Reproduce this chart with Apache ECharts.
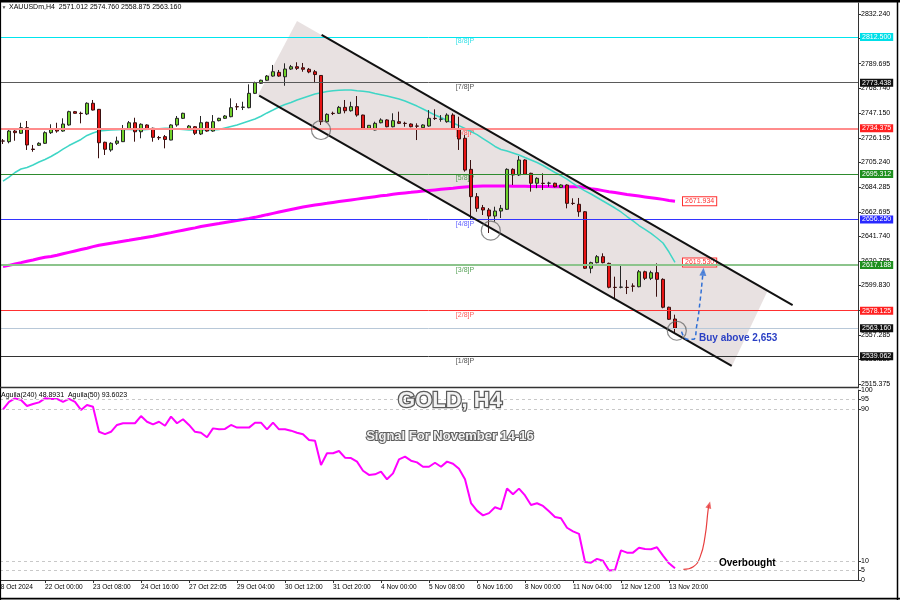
<!DOCTYPE html>
<html><head><meta charset="utf-8">
<script src="https://cdn.jsdelivr.net/npm/echarts@6/dist/echarts.min.js"></script>
<style>html,body{margin:0;padding:0;background:#fff}#c{width:900px;height:600px}</style>
</head><body><div id="c"></div>
<script>
// ---------- DATA ----------
const tickLabels = ['18 Oct 2024','22 Oct 00:00','23 Oct 08:00','24 Oct 16:00','27 Oct 22:05','29 Oct 04:00','30 Oct 12:00','31 Oct 20:00','4 Nov 00:00','5 Nov 08:00','6 Nov 16:00','8 Nov 00:00','11 Nov 04:00','12 Nov 12:00','13 Nov 20:00'];
const priceTicks = [2832.240,2811.285,2789.695,2768.740,2747.150,2726.195,2705.240,2684.285,2662.695,2641.740,2620.785,2599.830,2578.875,2557.285,2536.330,2515.375];
const aguilaTicks = [0,5,10,90,95,100];
const aguilaLevels = [95,90,10,5];
// candles [open, close, low, high], bars 1..113
const candles = [
[2723.5,2723.4,2720.9,2725.2],[2722.9,2732.0,2721.5,2732.9],[2732.0,2730.6,2723.7,2732.9],[2730.1,2734.9,2729.5,2739.1],[2734.9,2720.1,2715.8,2740.6],
[2716.6,2716.2,2714.3,2720.1],[2719.8,2721.5,2719.2,2722.4],[2721.5,2730.6,2720.9,2731.8],[2730.6,2733.8,2729.5,2737.8],[2733.8,2732.0,2730.6,2739.1],
[2732.0,2738.0,2731.4,2742.9],[2737.2,2748.6,2736.6,2749.4],[2748.6,2747.2,2747.0,2749.2],[2747.2,2747.0,2738.6,2748.6],[2746.6,2755.8,2745.7,2756.6],
[2755.8,2750.0,2749.6,2758.6],[2750.6,2722.0,2708.7,2750.9],[2722.4,2716.4,2711.5,2722.9],[2715.8,2721.5,2714.3,2722.4],[2721.5,2723.5,2720.1,2727.2],
[2722.9,2733.5,2722.6,2737.2],[2733.5,2739.1,2732.9,2740.6],[2739.1,2731.4,2722.9,2743.4],[2731.4,2737.8,2725.8,2738.6],[2737.2,2733.8,2733.3,2737.8],
[2734.4,2726.6,2722.9,2734.9],[2726.5,2726.2,2724.3,2727.8],[2727.2,2724.8,2717.2,2728.6],[2724.3,2737.2,2724.1,2737.8],[2737.2,2742.9,2735.7,2744.9],
[2742.9,2747.2,2742.3,2747.7],[2733.8,2736.3,2732.9,2737.2],[2735.7,2730.1,2728.6,2736.3],[2729.5,2739.1,2728.6,2744.9],[2739.5,2732.0,2731.4,2740.0],
[2732.0,2740.0,2731.4,2745.7],[2740.9,2742.9,2740.3,2743.4],[2742.9,2744.9,2742.3,2745.7],[2744.3,2752.0,2743.8,2760.0],[2752.9,2752.7,2750.0,2755.8],
[2752.3,2752.5,2750.0,2757.1],[2752.0,2764.3,2751.5,2772.0],[2764.3,2773.4,2763.7,2774.3],[2772.9,2775.5,2772.3,2776.0],[2775.5,2779.1,2774.9,2780.0],
[2779.1,2782.8,2778.5,2788.6],[2782.3,2779.1,2778.5,2784.3],[2778.5,2785.1,2770.8,2790.0],[2785.1,2787.1,2784.3,2788.6],[2787.1,2785.7,2784.3,2790.9],
[2786.2,2784.9,2782.8,2790.3],[2784.9,2782.6,2781.5,2786.0],[2782.8,2780.4,2773.1,2784.3],[2779.6,2740.0,2737.2,2780.0],[2740.0,2746.3,2739.1,2747.2],
[2747.2,2747.0,2745.7,2748.6],[2747.2,2752.3,2746.6,2753.5],[2752.3,2749.4,2747.2,2758.6],[2749.4,2752.9,2748.6,2757.1],[2752.9,2745.7,2744.3,2762.0],
[2745.7,2734.4,2734.0,2746.0],[2734.4,2736.9,2733.8,2737.2],[2732.9,2738.6,2732.6,2740.0],[2739.1,2741.5,2738.6,2742.9],[2741.5,2735.7,2735.2,2742.1],
[2735.7,2740.9,2735.2,2747.2],[2740.0,2738.6,2738.0,2748.6],[2738.6,2738.5,2735.7,2740.0],[2738.0,2735.7,2735.2,2738.6],[2736.3,2736.2,2724.3,2738.6],
[2734.9,2737.2,2734.4,2737.8],[2736.3,2742.9,2735.7,2750.0],[2742.9,2742.7,2741.5,2750.6],[2742.1,2742.2,2740.0,2745.7],[2740.0,2745.7,2739.1,2747.2],
[2745.7,2734.4,2733.5,2747.2],[2733.5,2725.2,2715.8,2744.3],[2725.8,2698.6,2697.2,2728.6],[2699.2,2675.8,2655.8,2707.2],[2675.8,2665.8,2662.9,2678.9],
[2666.4,2664.4,2660.1,2668.7],[2664.4,2659.2,2644.7,2666.1],[2659.2,2663.5,2654.4,2667.2],[2663.5,2665.8,2657.5,2668.7],[2665.0,2699.2,2664.4,2700.1],
[2699.2,2694.4,2685.8,2700.1],[2694.4,2707.2,2693.5,2710.6],[2707.2,2695.0,2694.4,2707.8],[2695.8,2687.3,2680.1,2696.3],[2687.3,2691.5,2683.0,2692.4],
[2687.3,2687.1,2681.5,2695.8],[2687.3,2687.4,2684.3,2688.6],[2687.3,2684.3,2683.8,2687.8],[2683.8,2685.8,2683.2,2686.4],[2685.8,2670.1,2665.8,2686.4],
[2670.1,2670.0,2668.7,2674.4],[2669.3,2662.9,2658.6,2674.7],[2662.9,2614.5,2613.9,2663.5],[2614.5,2619.3,2610.2,2620.1],[2619.3,2624.4,2618.7,2625.8],
[2624.4,2619.3,2618.7,2627.3],[2618.7,2598.2,2597.3,2619.3],[2598.2,2598.0,2588.8,2607.3],[2598.2,2598.4,2597.3,2617.3],[2598.2,2598.0,2592.4,2604.4],
[2599.3,2599.1,2594.4,2601.6],[2598.7,2611.5,2598.2,2613.0],[2611.5,2605.9,2604.4,2612.4],[2605.9,2610.7,2604.4,2612.4],[2610.7,2605.0,2590.1,2618.7],
[2605.0,2581.1,2580.2,2605.9],[2581.1,2570.8,2570.2,2581.6],[2571.012,2563.160,2558.875,2574.760]
];
const maFast = [
2689.2,2692.6,2696.5,2699.5,2700.8,2702.9,2705.5,2707.6,2710.2,2713.2,
2716.6,2719.6,2722.2,2724.8,2728.2,2730.3,2732.0,2732.5,2732.9,2733.2,
2733.3,2733.4,2733.2,2732.9,2733.3,2733.8,2734.0,2734.3,2734.3,2733.8,
2733.3,2732.9,2732.9,2732.9,2732.9,2732.9,2733.3,2734.6,2735.9,2737.2,
2738.9,2740.6,2742.3,2744.7,2747.5,2750.0,2752.6,2754.7,2756.4,2758.6,
2760.3,2762.0,2763.7,2764.8,2765.9,2766.6,2766.9,2767.2,2767.2,2766.6,
2766.1,2765.4,2764.2,2763.1,2762.0,2760.7,2759.4,2757.7,2755.6,2753.4,
2750.9,2748.3,2745.7,2743.6,2741.0,2738.9,2736.6,2734.2,2731.6,2729.0,
2725.6,2722.2,2718.8,2716.2,2714.9,2713.2,2711.5,2709.3,2707.2,2705.1,
2702.5,2699.5,2696.5,2693.9,2690.9,2687.1,2683.7,2680.7,2678.1,2675.1,
2672.1,2669.1,2666.1,2662.7,2658.8,2655.0,2651.1,2647.7,2644.3,2640.4,
2636.1,2628.4,2619.530];
const maSlow = [
2615.9,2617.0,2618.2,2619.3,2620.5,2621.6,2622.8,2623.9,2624.6,2625.7,
2626.9,2628.1,2629.3,2630.5,2631.7,2633.0,2634.2,2635.1,2636.0,2636.8,
2637.7,2638.5,2639.4,2640.2,2641.1,2641.9,2643.0,2644.0,2645.0,2646.1,
2647.1,2648.1,2649.1,2650.2,2651.1,2652.0,2652.8,2653.7,2654.5,2655.4,
2656.2,2657.1,2658.1,2659.2,2660.4,2661.5,2662.6,2663.7,2664.8,2665.9,
2667.0,2667.8,2668.6,2669.4,2670.1,2670.9,2671.6,2672.3,2673.0,2673.7,
2674.4,2675.1,2675.8,2676.5,2677.1,2677.8,2678.5,2679.0,2679.5,2680.1,
2680.6,2681.1,2681.6,2682.1,2682.6,2683.1,2683.7,2684.1,2684.5,2684.8,
2684.9,2684.9,2684.9,2684.9,2684.9,2684.8,2684.8,2684.7,2684.6,2684.6,
2684.5,2684.5,2684.4,2684.4,2684.3,2684.3,2684.3,2683.6,2682.7,2681.9,
2681.0,2680.1,2679.3,2678.5,2677.7,2677.0,2676.3,2675.6,2674.9,2674.2,
2673.5,2672.6,2671.934];
const aguila = [
89.8,93.8,95.6,94.7,91.6,92.6,93.5,95.6,95.3,95.3,
93.7,95.3,93.7,89.5,92.1,91.2,78.0,76.8,78.0,81.6,
82.5,82.5,82.5,86.3,83.3,81.9,83.3,81.2,86.0,82.5,
84.6,81.6,78.0,77.5,75.1,79.8,79.3,79.5,81.6,80.2,
80.2,80.2,82.8,82.8,79.3,82.8,79.3,79.3,78.6,77.5,
76.7,73.7,73.3,60.5,66.7,66.7,67.9,64.4,64.2,62.3,
57.5,55.3,55.6,57.0,53.0,56.1,63.5,64.9,62.8,61.9,
59.6,59.6,61.7,59.6,62.3,61.2,58.5,53.0,40.5,36.5,
34.0,35.2,38.3,37.2,48.2,45.1,48.1,44.5,39.5,40.4,
39.0,36.2,33.2,32.5,27.5,25.6,24.3,9.5,9.1,11.1,
10.1,5.0,5.3,15.6,14.4,14.4,17.0,16.3,16.2,17.2,
12.8,8.8,6.2];
const murreyLevels = [2812.500,2773.438,2734.375,2695.312,2656.250,2617.188,2578.125,2539.062];
const murreyNames = ['[8/8]P','[7/8]P','[6/8]P','[5/8]P','[4/8]P','[3/8]P','[2/8]P','[1/8]P'];
const currentPrice = 2563.160;
// channel & annotations in [bar position, price]
const channelUpper = [[54.1,2814.3],[132.6,2583.0]];
const channelLower = [[43.7,2762.3],[122.45,2531.0]];
const channelArea = [[50.0,2826.2],[128.5,2595.9],[122.5,2530.8],[43.5,2762.9]];
const touchCircles = [[54.0,2732.9],[82.3,2646.7],[113.3,2561.0]];
const buyArrow = [[114.1,2560.2],[115.05,2553.7],[116.05,2553.7],[116.6,2564.5],[117.2,2587.3],[117.6,2607.3],[117.7,2611.5]];
const reboundArrow = [[114.4,5.6],[116.05,7.0],[117.2,12.3],[118.0,22.8],[118.55,37.7],[118.7,39.5]];

// ---------- STYLE ----------
const FONT = '"Liberation Sans", Arial, sans-serif';
const lineColors = ['#00e5ee','#5a5a5a','#ff8c8c','#2e8b2e','#3333ff','#8cc48c','#ff3030','#333333'];
const lineWidths = [1,1,2,1,1,2,1,1];
const boxColors = ['#00dfe8','#111111','#ff2020','#1f8f1f','#2828ff','#1f8f1f','#ff2020','#111111'];
const nameColors = ['#00d8e0','#222222','#ff3030','#2e8b2e','#3333ff','#2e8b2e','#ff3030','#222222'];
const NCAT = 144;
const cats = Array.from({length: NCAT}, (_, i) => String(i));
const pad = arr => ['-'].concat(arr);
const murreyLabelX = 78;

const levelData = murreyLevels.map((v, k) => ({
  yAxis: v,
  lineStyle: {color: lineColors[k], width: lineWidths[k], type: 'solid'},
  label: {show: true, position: 'end', formatter: v.toFixed(3), backgroundColor: boxColors[k], color: '#fff',
          fontSize: 7, fontFamily: FONT, padding: [1, 2, 0, 2], distance: 2}
}));
levelData.push({
  yAxis: currentPrice,
  lineStyle: {color: '#b8c8d8', width: 1, type: 'solid'},
  label: {show: true, position: 'end', formatter: currentPrice.toFixed(3), backgroundColor: '#111', color: '#fff',
          fontSize: 7, fontFamily: FONT, padding: [1, 2, 0, 2], distance: 2}
});

const isTick = i => i % 8 === 0 && i / 8 < tickLabels.length;
const outlined = (size) => ({
  fill: '#f2f2f2', stroke: '#5c5c5c', lineWidth: size > 16 ? 2.5 : 2, strokeFirst: true,
  shadowColor: 'rgba(0,0,0,0.45)', shadowBlur: 2, shadowOffsetX: 1, shadowOffsetY: 1
});

const chart = echarts.init(document.getElementById('c'), null, {renderer: 'canvas'});
chart.setOption({
  animation: false,
  backgroundColor: '#fff',
  textStyle: {fontFamily: FONT},
  grid: [
    {left: -6, right: 42, top: 3, height: 384, containLabel: false, outerBoundsMode: 'none'},
    {left: -6, right: 42, top: 390, height: 190, containLabel: false, outerBoundsMode: 'none'}
  ],
  xAxis: [
    {type: 'category', gridIndex: 0, data: cats, boundaryGap: true, show: false, axisLine: {onZero: false}},
    {type: 'value', gridIndex: 0, min: -0.5, max: NCAT - 0.5, show: false, axisLine: {onZero: false}},
    {type: 'category', gridIndex: 1, data: cats, boundaryGap: true,
     axisLine: {show: true, onZero: false, lineStyle: {color: '#333', width: 1}},
     axisTick: {show: true, alignWithLabel: true, length: 3, interval: (i) => isTick(i), lineStyle: {color: '#333'}},
     axisLabel: {interval: (i) => isTick(i), align: 'left', margin: 4, fontSize: 6.6, color: '#000',
                 formatter: (v, i) => { const n = Number(v); return isTick(n) ? tickLabels[n / 8] : ''; }},
     splitLine: {show: false}},
    {type: 'value', gridIndex: 1, min: -0.5, max: NCAT - 0.5, show: false, axisLine: {onZero: false}}
  ],
  yAxis: [
    {type: 'value', gridIndex: 0, position: 'right', min: 2512.81, max: 2841.66,
     splitLine: {show: false},
     axisLine: {show: true, onZero: false, lineStyle: {color: '#333'}},
     axisTick: {show: true, length: 3, customValues: priceTicks, lineStyle: {color: '#333'}},
     axisLabel: {customValues: priceTicks, formatter: v => v.toFixed(3), fontSize: 7, color: '#000', margin: 3}},
    {type: 'value', gridIndex: 1, position: 'right', min: 0, max: 100,
     splitLine: {show: false},
     axisLine: {show: true, onZero: false, lineStyle: {color: '#333'}},
     axisTick: {show: true, length: 3, customValues: aguilaTicks, lineStyle: {color: '#333'}},
     axisLabel: {customValues: aguilaTicks, fontSize: 7, color: '#000', margin: 3}}
  ],
  series: [
    {type: 'custom', name: 'channelArea', xAxisIndex: 1, yAxisIndex: 0, z: 1, silent: true,
     data: [channelArea[0]],
     renderItem: (params, api) => ({type: 'polygon', shape: {points: channelArea.map(p => api.coord(p))},
                                     style: {fill: 'rgba(185,165,165,0.33)'}})},
    {type: 'line', name: 'levels', xAxisIndex: 0, yAxisIndex: 0, z: 2, data: [], silent: true,
     markLine: {symbol: ['none', 'none'], silent: true, animation: false, data: levelData}},
    {type: 'scatter', name: 'murreyNames', xAxisIndex: 1, yAxisIndex: 0, z: 2, silent: true, symbolSize: 0,
     data: murreyLevels.map((v, k) => ({value: [murreyLabelX, v],
       label: {show: true, position: 'bottom', distance: 1, formatter: murreyNames[k], color: nameColors[k], fontSize: 7}}))},
    {type: 'line', name: 'MA slow', xAxisIndex: 0, yAxisIndex: 0, z: 3, data: pad(maSlow), symbol: 'none',
     lineStyle: {color: '#ff00ff', width: 3},
     endLabel: {show: true, formatter: p => Number(p.value).toFixed(3), distance: 8, backgroundColor: '#fff',
                borderColor: '#ff3030', borderWidth: 1, color: '#ff3030', fontSize: 7, padding: [1, 2, 0, 2]}},
    {type: 'line', name: 'MA fast', xAxisIndex: 0, yAxisIndex: 0, z: 3, data: pad(maFast), symbol: 'none',
     lineStyle: {color: '#3fd6c6', width: 1.5},
     endLabel: {show: true, formatter: p => Number(p.value).toFixed(3), distance: 8, backgroundColor: '#fff',
                borderColor: '#ff3030', borderWidth: 1, color: '#ff3030', fontSize: 7, padding: [1, 2, 0, 2]}},
    {type: 'candlestick', name: 'XAUUSD', xAxisIndex: 0, yAxisIndex: 0, z: 4, barWidth: 4,
     data: pad(candles).map(d => d === '-' ? ['-', '-', '-', '-'] : d),
     itemStyle: {color: '#6fd12a', color0: '#e81414', borderColor: '#262626', borderColor0: '#3a1010',
                 borderColorDoji: '#262626', borderWidth: 1}},
    {type: 'line', name: 'upper', xAxisIndex: 1, yAxisIndex: 0, z: 5, data: channelUpper, symbol: 'none',
     lineStyle: {color: '#111', width: 2}},
    {type: 'line', name: 'lower', xAxisIndex: 1, yAxisIndex: 0, z: 5, data: channelLower, symbol: 'none',
     lineStyle: {color: '#111', width: 2}},
    {type: 'scatter', name: 'touches', xAxisIndex: 1, yAxisIndex: 0, z: 6, data: touchCircles, symbol: 'circle',
     symbolSize: 19, itemStyle: {color: 'rgba(0,0,0,0)', borderColor: '#6a6a6a', borderWidth: 1.2}},
    {type: 'line', name: 'buyArrow', xAxisIndex: 1, yAxisIndex: 0, z: 6, data: buyArrow, symbol: 'none', smooth: 0.5,
     lineStyle: {color: '#2f6fd6', width: 1.5, type: [4, 3]}},
    {type: 'scatter', name: 'buyHead', xAxisIndex: 1, yAxisIndex: 0, z: 6, data: [buyArrow[buyArrow.length - 1]],
     symbol: 'triangle', symbolSize: [7, 8], symbolRotate: -5, itemStyle: {color: '#2f6fd6'}},
    {type: 'line', name: 'Aguila', xAxisIndex: 2, yAxisIndex: 1, z: 3, data: pad(aguila), symbol: 'none',
     lineStyle: {color: '#ff00ff', width: 2},
     markLine: {symbol: ['none', 'none'], silent: true, label: {show: false},
                lineStyle: {color: '#c8c8c8', width: 1, type: [3, 3]},
                data: aguilaLevels.map(v => ({yAxis: v}))}},
    {type: 'line', name: 'rebound', xAxisIndex: 3, yAxisIndex: 1, z: 4, data: reboundArrow, symbol: 'none', smooth: 0.5,
     lineStyle: {color: '#e84040', width: 1.2}},
    {type: 'scatter', name: 'reboundHead', xAxisIndex: 3, yAxisIndex: 1, z: 4, data: [reboundArrow[reboundArrow.length - 1]],
     symbol: 'triangle', symbolSize: [6, 7], symbolRotate: -15, itemStyle: {color: '#e84040'}}
  ],
  graphic: [
    {type: 'line', shape: {x1: 0, y1: 1.3, x2: 900, y2: 1.3}, style: {stroke: '#000', lineWidth: 2.6}, z: 100},
    {type: 'line', shape: {x1: 0.5, y1: 0, x2: 0.5, y2: 600}, style: {stroke: '#000', lineWidth: 1.2}, z: 100},
    {type: 'line', shape: {x1: 897.5, y1: 0, x2: 897.5, y2: 600}, style: {stroke: '#000', lineWidth: 1.5}, z: 100},
    {type: 'line', shape: {x1: 0, y1: 598.6, x2: 900, y2: 598.6}, style: {stroke: '#000', lineWidth: 1.6}, z: 100},
    {type: 'line', shape: {x1: 0, y1: 387.5, x2: 859, y2: 387.5}, style: {stroke: '#333', lineWidth: 1.6}, z: 100},
    {type: 'text', x: 1.5, y: 7.5, z: 100, style: {text: '▼', font: '5px ' + FONT, fill: '#555', verticalAlign: 'middle'}},
    {type: 'text', x: 9, y: 7.5, z: 100, style: {text: 'XAUUSDm,H4  2571.012 2574.760 2558.875 2563.160', font: '7px ' + FONT, fill: '#000', verticalAlign: 'middle'}},
    {type: 'text', x: 1, y: 395.5, z: 100, style: {text: 'Aguila(240) 48.8931  Aguila(50) 93.6023', font: '7px ' + FONT, fill: '#000', verticalAlign: 'middle'}},
    {type: 'text', x: 450, y: 400.5, z: 100, style: Object.assign({text: 'GOLD, H4', font: 'bold 22px ' + FONT, align: 'center', verticalAlign: 'middle'}, outlined(22))},
    {type: 'text', x: 450, y: 436.5, z: 100, style: Object.assign({text: 'Signal For November 14-16', font: 'bold 13px ' + FONT, align: 'center', verticalAlign: 'middle'}, outlined(13))},
    {type: 'text', x: 699, y: 338, z: 100, style: {text: 'Buy above 2,653', font: 'bold 10px ' + FONT, fill: '#2a3fc4', verticalAlign: 'middle'}},
    {type: 'text', x: 719, y: 563, z: 100, style: {text: 'Overbought', font: 'bold 10px ' + FONT, fill: '#000', verticalAlign: 'middle'}}
  ]
});
</script>
</body></html>
